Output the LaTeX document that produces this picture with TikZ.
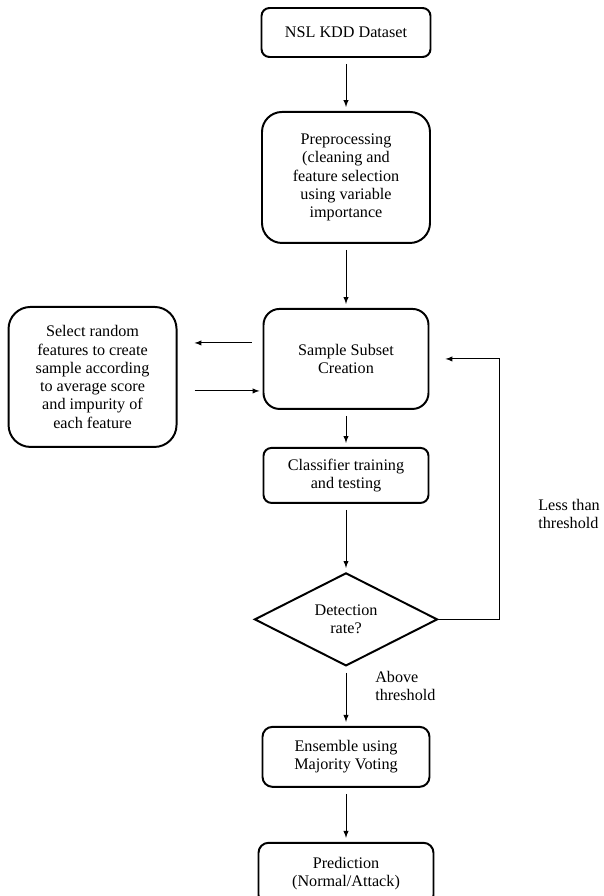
\documentclass[tikz,border=0pt]{standalone}
\usepackage{fontspec}
\setmainfont{Liberation Serif}
\usetikzlibrary{positioning,shapes.geometric}

\begin{document}
\begin{tikzpicture}[node distance=1cm, auto,
	font=\fontsize{11.5}{13}\selectfont,
	block/.style={rectangle, draw, line width=1.4pt, align=center},
	arr/.style={-latex, line width=0.7pt, shorten <=0.15cm, shorten >=0.1cm},
	lbl/.style={align=left, anchor=west, inner sep=0pt}]
	\useasboundingbox (0,0) rectangle (15.1,-22.4);
	\node[block, rounded corners=0.2cm, minimum width=4.225cm, minimum height=1.225cm] (nsl) at (8.65,-0.8125) {NSL KDD Dataset};
	\node[block, rounded corners=0.5cm, below=1.325cm of nsl, minimum width=4.2cm, minimum height=3.275cm] (pre) {Preprocessing\\(cleaning and\\feature selection\\using variable\\importance};
	\node[block, rounded corners=0.4cm, below=1.6cm of pre, minimum width=4.125cm, minimum height=2.5cm] (ssc) {Sample Subset\\Creation};
	\node[block, rounded corners=0.55cm, left=2.125cm of ssc, yshift=-0.45cm, minimum width=4.2cm, minimum height=3.5cm] (sel) {Select random\\features to create\\sample according\\to average score\\and impurity of\\each feature};
	\node[block, rounded corners=0.2cm, below=0.925cm of ssc, minimum width=4.125cm, minimum height=1.375cm] (cls) {Classifier training\\and testing};
	\node[diamond, draw, line width=1.4pt, aspect=2, inner sep=0pt, align=center, below=1.7cm of cls, minimum width=4.575cm, minimum height=2.325cm] (det) {Detection\\rate?};
	\node[block, rounded corners=0.25cm, below=1.475cm of det, minimum width=4.175cm, minimum height=1.5cm] (ens) {Ensemble using\\Majority Voting};
	\node[block, rounded corners=0.25cm, below=1.35cm of ens, minimum width=4.375cm, minimum height=1.55cm] (pred) {Prediction\\(Normal/Attack)};
	\node[lbl] (abv) at (9.375,-17.15) {Above\\threshold};
	\node[lbl] (lss) at (13.45,-12.85) {Less than\\threshold};
	
	\draw[arr] (nsl) -- (pre);
	\draw[arr] (pre) -- (ssc);
	\draw[arr] (ssc) -- (cls);
	\draw[arr] (cls) -- (det);
	\draw[arr] (det) -- (ens);
	\draw[arr] (ens) -- (pred);
	
	\coordinate (u1) at ([xshift=-0.275cm, yshift=0.4cm]ssc.west);
	\coordinate (u2) at ([xshift=0.425cm]sel.east);
	\coordinate (l1) at ([xshift=-0.075cm, yshift=-0.8cm]ssc.west);
	\coordinate (fb) at ([xshift=0.4cm]ssc.east);
	\draw[-latex, line width=0.7pt] (u1) -- (u1 -| u2);
	\draw[-latex, line width=0.7pt] (l1 -| u2) -- (l1);
	\draw[-latex, line width=0.7pt] (det.east) -- ++(1.525,0) |- (fb);
\end{tikzpicture}
\end{document}
